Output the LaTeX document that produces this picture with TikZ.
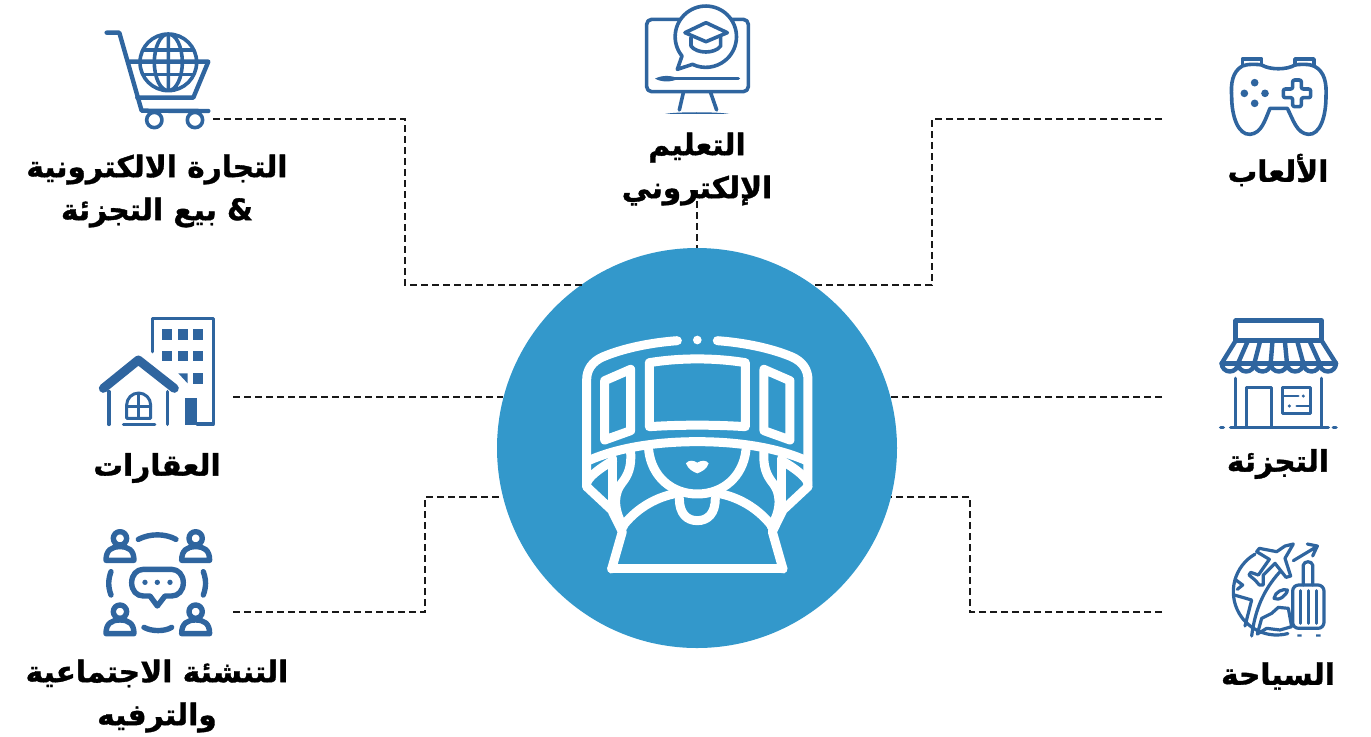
\documentclass[tikz,border=0pt]{standalone}
\usepackage{fontspec}
\TeXXeTstate=1
\newfontfamily\arabicfont[Script=Arabic,FakeBold=1.2]{DejaVu Sans Bold}
\newcommand{\artext}[1]{\beginR #1\endR}
\definecolor{hubblue}{HTML}{3398CB}
\definecolor{iconblue}{HTML}{2F659F}
\tikzset{
  dashlink/.style={draw=black!90,line width=1.2pt,dash pattern=on 3.3pt off 2.2pt},
  caption/.style={font=\arabicfont\fontsize{14.8}{21.5}\selectfont,align=center,text=black,inner sep=0pt},
  iconline/.style={draw=iconblue,line width=1.8pt,line cap=round,line join=round},
  hubline/.style={draw=white,line width=4.5pt,line cap=round,line join=round}
}
\begin{document}
\begin{tikzpicture}[x=0.5pt,y=-0.5pt]
\useasboundingbox (0,0) rectangle (1371,736);
\node[circle,fill=hubblue,minimum size=200pt,inner sep=0pt] (hub) at (697,448) {};

\coordinate (shopend) at (213,119);
\coordinate (shopbend) at (405,285);
\coordinate (learnend) at (697,190);
\coordinate (gameend) at (1162,119);
\coordinate (gamebend) at (932,285);
\coordinate (realtyend) at (233,397);
\coordinate (retailend) at (1162,397);
\coordinate (socialend) at (233,612);
\coordinate (socialbend) at (425,497);
\coordinate (tourend) at (1162,612);
\coordinate (tourbend) at (970,497);
\draw[dashlink] (shopend) -| (shopbend) -- (shopbend -| hub.125.4);
\draw[dashlink] (learnend) -- (hub.north);
\draw[dashlink] (gameend) -| (gamebend) -- (gamebend -| hub.54.6);
\draw[dashlink] (realtyend) -- (realtyend -| hub.165.2);
\draw[dashlink] (retailend) -- (retailend -| hub.14.8);
\draw[dashlink] (socialend) -| (socialbend) -- (socialbend -| hub.194.2);
\draw[dashlink] (tourend) -| (tourbend) -- (tourbend -| hub.-14.2);

\node[caption] (shopcap) at (157,191) {\artext{التجارة الالكترونية}\\\artext{\& بيع التجزئة}};
\node[caption] (learncap) at (697,169) {\artext{التعليم}\\\artext{الإلكتروني}};
\node[caption] (gamecap) at (1278,170) {\artext{الألعاب}};
\node[caption] (realtycap) at (157,468) {\artext{العقارات}};
\node[caption] (retailcap) at (1278,464) {\artext{التجزئة}};
\node[caption] (socialcap) at (157,696) {\artext{التنشئة الاجتماعية}\\\artext{والترفيه}};
\node[caption] (tourcap) at (1278,676) {\artext{السياحة}};

\begin{scope}[shift={(560,310)},scale=0.3333]
\fill[white] (412,90) circle (13);
\draw[hubline] (352,92) .. controls (270,98) and (190,115) .. (130,140) .. controls (95,155) and (80,180) .. (80,210) -- (80,530);
\draw[hubline] (472,92) .. controls (554,98) and (634,115) .. (694,140) .. controls (729,155) and (744,180) .. (744,210) -- (744,530);
\draw[hubline] (85,452) .. controls (180,410) and (300,395) .. (412,395) .. controls (524,395) and (644,410) .. (739,452);
\draw[hubline] (268,158) .. controls (360,143) and (464,143) .. (556,158) -- (556,350) .. controls (464,344) and (360,344) .. (268,350) -- cycle;
\draw[hubline] (134,212) -- (212,178) -- (212,362) -- (134,390) -- cycle;
\draw[hubline] (690,212) -- (612,178) -- (612,362) -- (690,390) -- cycle;
\draw[hubline] (266,420) .. controls (275,500) and (335,552) .. (412,552) .. controls (489,552) and (549,500) .. (558,420);
\fill[white] (378,460) .. controls (385,450) and (400,450) .. (412,458) .. controls (424,450) and (439,450) .. (446,460) .. controls (440,478) and (425,485) .. (412,490) .. controls (399,485) and (384,478) .. (378,460) -- cycle;
\draw[hubline] (358,565) .. controls (358,610) and (380,632) .. (412,632) .. controls (444,632) and (466,610) .. (466,565);
\draw[hubline] (155,777) -- (669,777);
\draw[hubline] (155,777) -- (187,665) -- (155,600) -- (80,530);
\draw[hubline] (669,777) -- (637,665) -- (669,600) -- (744,530);
\draw[hubline] (187,650) .. controls (225,600) and (280,565) .. (340,552);
\draw[hubline] (637,650) .. controls (599,600) and (544,565) .. (484,552);
\draw[hubline] (158,445) -- (158,590);
\draw[hubline] (666,445) -- (666,590);
\draw[hubline] (158,452) .. controls (120,475) and (85,500) .. (80,520);
\draw[hubline] (666,452) .. controls (704,475) and (739,500) .. (744,520);
\draw[hubline] (212,425) .. controls (215,470) and (205,495) .. (185,520) .. controls (165,545) and (155,590) .. (190,650);
\draw[hubline] (612,425) .. controls (609,470) and (619,495) .. (639,520) .. controls (659,545) and (669,590) .. (634,650);
\end{scope}

\begin{scope}[scale=0.3333]
\draw[iconline,line width=2.2pt] (320,98) -- (358,98) -- (425,332) -- (625,333);
\draw[iconline,line width=2.2pt] (388,185) -- (625,185) -- (580,293) -- (412,293);
\draw[iconline] (463,360) circle (23) (585,360) circle (23);
\draw[iconline] (505,187) circle (85) (505,187) ellipse (42 and 85) (505,102) -- (505,272);
\draw[iconline] (429,150) -- (581,150) (420,187) -- (590,187) (429,224) -- (581,224);
\end{scope}

\begin{scope}[shift={(600,0)},scale=0.3333]
\draw[iconline,rounded corners=2.5pt] (140,58) rectangle (445,275);
\filldraw[iconline,fill=white] (246,168) arc (141:475.7:92) -- (232,208) -- cycle;
\draw[iconline] (255,98) -- (318,68) -- (382,98) -- (318,125) -- cycle;
\draw[iconline] (273,112) -- (273,138) .. controls (290,162) and (345,162) .. (362,138) -- (362,112);
\draw[iconline] (225,236) -- (415,236);
\fill[iconblue] (165,236) .. controls (185,225) and (215,225) .. (235,236) .. controls (215,247) and (185,247) .. (165,236) -- cycle;
\draw[iconline] (250,278) -- (238,330);
\draw[iconline] (332,278) -- (350,330);
\fill[iconblue] (195,342) .. controls (225,335) and (355,335) .. (388,342) -- cycle;
\end{scope}

\begin{scope}[shift={(1200,40)},scale=0.3333]
\draw[iconline] (127,78) -- (127,57) -- (185,57) -- (185,75);
\draw[iconline] (285,75) -- (285,57) -- (342,57) -- (342,78);
\draw[iconline] (185,75) .. controls (210,90) and (260,90) .. (285,75) .. controls (300,72) and (330,72) .. (342,78) .. controls (375,95) and (380,130) .. (378,170) .. controls (378,230) and (360,285) .. (325,283) .. controls (290,280) and (280,240) .. (262,205) -- (210,205) .. controls (195,240) and (185,280) .. (150,283) .. controls (115,285) and (95,230) .. (95,170) .. controls (92,130) and (97,95) .. (127,78) .. controls (140,72) and (170,72) .. (185,75) -- cycle;
\foreach \bx/\by in {164/128,133/160,195/160,164/190}
  \fill[iconblue] (\bx,\by) circle (11.5);
\draw[iconline,rounded corners=1pt] (278,120) -- (304,120) -- (304,147) -- (332,147) -- (332,173) -- (304,173) -- (304,200) -- (278,200) -- (278,173) -- (250,173) -- (250,147) -- (278,147) -- cycle;
\end{scope}

\begin{scope}[shift={(1200,310)},scale=0.3333]
\draw[iconline,line width=2.2pt] (107,32) rectangle (365,92);
\draw[iconline,line width=2.2pt] (65,160) -- (408,160);
\foreach \i in {0,...,7}
  \draw[iconline,line width=2.2pt] ({107+36.86*\i},92) -- ({65+49*\i},160);
\foreach \i in {0,...,6}
  \draw[iconline,line width=2.2pt] ({65+49*\i},160) arc (180:0:24.5);
\draw[iconline] (107,205) -- (107,350) (365,205) -- (365,350);
\draw[iconline] (140,350) -- (140,232) -- (215,232) -- (215,350);
\draw[iconline] (248,232) rectangle (332,310);
\draw[iconline,line width=1.3pt] (250,258) -- (295,258) (290,288) -- (332,288);
\fill[iconblue] (310,258) circle (5) (268,288) circle (5);
\draw[iconline] (92,352) -- (385,352) (62,352) -- (70,352) (400,352) -- (408,352);
\end{scope}

\begin{scope}[shift={(1200,530)},scale=0.3333]
\draw[iconline,line width=1.6pt] (230,185) ++(240:130) arc (240:75:130);
\draw[iconline,line width=1.6pt] (155,318) .. controls (165,240) and (190,180) .. (240,125);
\filldraw[iconline,line width=1.6pt,fill=white] (280,42) -- (255,85) -- (272,138) -- (258,142) -- (225,100) -- (190,135) -- (190,165) -- (178,165) -- (165,150) -- (147,135) -- (152,127) -- (175,135) -- (208,88) -- (170,65) -- (178,55) -- (230,65) -- (255,48) -- cycle;
\draw[iconline,line width=1.6pt] (280,92) -- (350,50) (322,42) -- (352,48) -- (338,78);
\draw[iconline,line width=1.6pt] (105,148) -- (128,165) -- (112,178) (103,195) -- (155,210) -- (135,288);
\draw[iconline,line width=1.6pt] (222,205) .. controls (225,185) and (250,175) .. (262,180) .. controls (262,195) and (235,215) .. (222,205) -- cycle;
\draw[iconline,line width=1.6pt] (172,312) -- (185,265) -- (215,250) -- (235,232) -- (265,235) -- (275,290) -- (240,300) -- (200,295) -- cycle;
\filldraw[iconline,line width=1.6pt,fill=white,rounded corners=3pt] (278,165) rectangle (372,295);
\draw[iconline,line width=1.6pt] (302,182) -- (302,280) (325,182) -- (325,280) (350,182) -- (350,280);
\draw[iconline,line width=1.6pt] (310,165) -- (310,105) .. controls (312,92) and (336,92) .. (338,105) -- (338,165);
\fill[iconblue] (292,313) rectangle (305,320) (348,313) rectangle (362,320);
\end{scope}

\begin{scope}[shift={(80,310)},scale=0.3333]
\draw[iconline] (218,125) -- (218,25) -- (400,25) -- (400,342) -- (352,342);
\foreach \wx/\wy in {247/58,293/58,340/58,247/122,293/122,340/122,340/190}
  \fill[iconblue] (\wx,\wy) rectangle ++(30,32);
\fill[iconblue] (295,190) -- (323,190) -- (323,220) -- cycle;
\fill[iconblue] (314,265) rectangle (352,345);
\draw[iconline,line width=4.5pt] (70,235) -- (175,150) -- (283,235);
\draw[iconline] (87,245) -- (87,343) (263,245) -- (263,343);
\draw[iconline,line width=1.5pt] (140,325) -- (140,285) arc (180:360:36) -- (212,325) -- cycle;
\draw[iconline,line width=1.5pt] (176,250) -- (176,325) (140,290) -- (212,290);
\draw[iconline,line width=1.5pt] (130,342) -- (225,342);
\end{scope}

\begin{scope}[shift={(10,520)},scale=0.3333]
\foreach \px/\py in {330/55,557/55,330/275,557/275} {
  \draw[iconline,line width=2.7pt] (\px,\py) circle (20);
  \draw[iconline,line width=2.7pt] (\px-42,\py+66) .. controls (\px-42,\py+35) and (\px-25,\py+25) .. (\px,\py+25) .. controls (\px+25,\py+25) and (\px+42,\py+35) .. (\px+42,\py+66) -- cycle;
}
\draw[iconline,line width=2.7pt] (385,58) .. controls (420,40) and (465,40) .. (498,58);
\draw[iconline,line width=2.7pt] (402,322) .. controls (425,335) and (465,335) .. (485,322);
\draw[iconline,line width=2.7pt] (303,155) .. controls (294,180) and (294,200) .. (303,225);
\draw[iconline,line width=2.7pt] (580,155) .. controls (589,180) and (589,200) .. (580,225);
\draw[iconline,line width=2.7pt] (400,148) -- (485,148) .. controls (505,148) and (520,165) .. (520,188) .. controls (520,212) and (505,228) .. (485,228) -- (465,228) -- (442,258) -- (420,228) -- (400,228) .. controls (380,228) and (365,212) .. (365,188) .. controls (365,165) and (380,148) .. (400,148) -- cycle;
\foreach \dx in {405,442,480}
  \fill[iconblue] (\dx,187) circle (8);
\end{scope}
\end{tikzpicture}
\end{document}
